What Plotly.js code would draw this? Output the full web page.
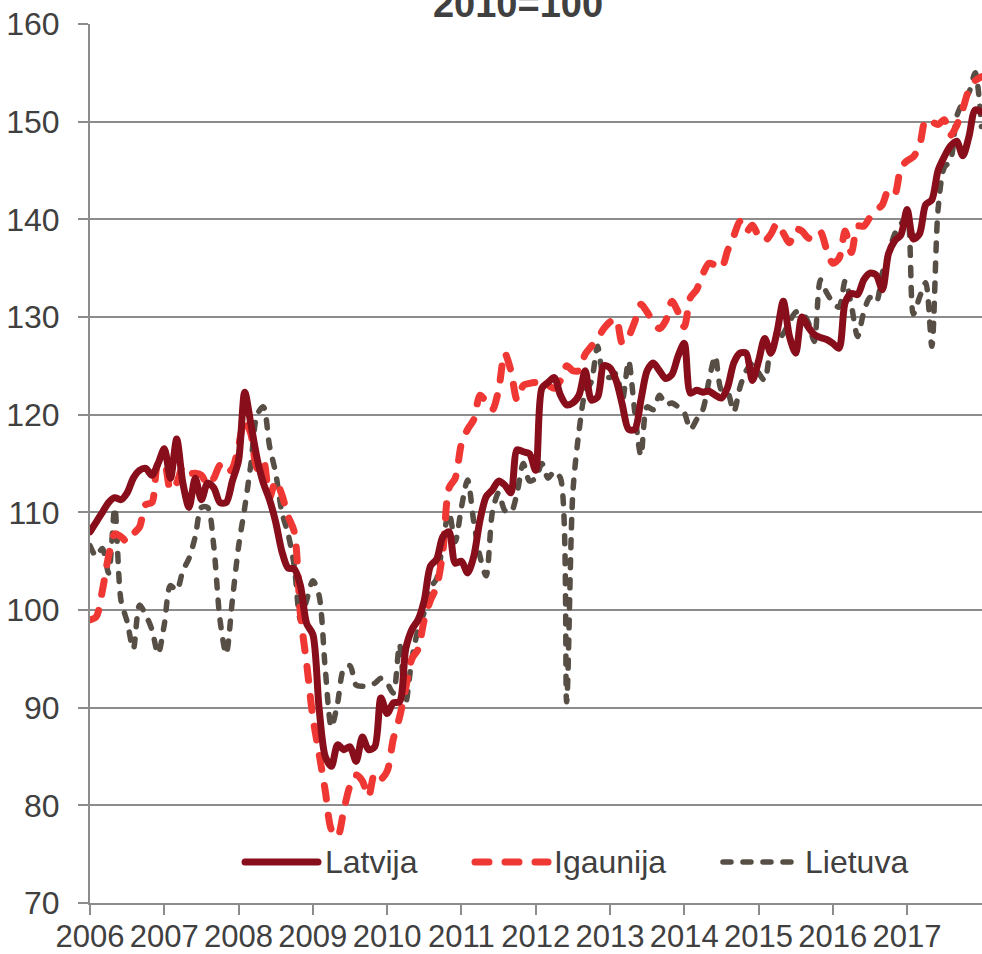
<!DOCTYPE html>
<html>
<head>
<meta charset="utf-8">
<script src="https://cdn.plot.ly/plotly-3.0.1.min.js"></script>
<style>
  html, body { margin: 0; padding: 0; background: #ffffff; }
  #chart { width: 982px; height: 954px; }
  .scatterlayer .js-line { stroke-linecap: round !important; stroke-linejoin: round !important; }
  .shapelayer path { stroke-linecap: round !important; }
</style>
</head>
<body>
<div id="chart"></div>
<script>
// Monthly index values, Jan 2006 ... Jan 2018 (2010=100)
const years = ['2006','2007','2008','2009','2010','2011','2012','2013','2014','2015','2016','2017'];
const seriesNames = ['Latvija', 'Igaunija', 'Lietuva'];

const latvija = [
  108, 109, 110, 111, 111.5, 111.3, 112, 113.5, 114.3, 114.5, 113.8, 115,
  116.5, 113.5, 117.5, 113, 110.5, 113.5, 111.3, 113, 112.5, 111, 111, 113.2,
  115.3, 122.3, 119, 115.5, 113, 111.3, 109, 106, 104.3, 104.2, 102.5, 98.6,
  97.5, 90, 85, 84, 86.2, 85.7, 86, 84.5, 87, 85.7, 86, 91,
  89.4, 90.5, 90.6, 96, 98, 99, 101, 104.5, 105.2, 107.5, 108, 104.8,
  105, 103.8, 105.5, 109.2, 111.6, 112.3, 113.2, 112.8, 112, 116.4, 116.2, 116,
  114.3, 122.7, 123.3, 123.8, 122, 121, 121.2, 122, 124.5, 121.5, 121.8, 125,
  124.8, 123.5, 121, 118.5, 118.5, 121.5, 124.5, 125.3, 124.5, 123.7, 124.1, 126,
  127.3, 122.2, 122.5, 122.3, 122.4, 122, 121.7, 122.8, 125.3, 126.3, 126.3, 123.5,
  125.5, 127.8, 126.3, 128.5, 131.6, 128, 126.3, 130, 129, 128.2, 127.9, 127.7,
  127.3, 126.8, 131.5, 132.4, 132.3, 133.8, 134.5, 134.3, 132.8, 136.5, 137.8, 138.4,
  141, 138, 138.5, 141.5, 142, 145, 146.4, 147.5, 148, 146.5, 148.5, 151.2,
  151
];

const igaunija = [
  99, 99.3, 102, 105.5, 107.8, 107.5, 107, 107.8, 108.5, 110.8, 111, 115,
  115, 112.3, 113, 114.7, 114, 114, 113.8, 112.8, 113.5, 114.8, 114, 114.5,
  116.8, 119.5, 118, 114.5, 115.3, 111.5, 113.2, 111.8, 109.6, 108, 99.5, 94.5,
  89, 85.3, 81.5, 77.5, 76.8, 79.5, 82, 83.1, 82.5, 80.9, 83.3, 82.7,
  83.5, 86.8, 89, 92, 95, 96, 99, 101, 102.4, 106, 112.5, 113.5,
  117, 118.5, 119.5, 122, 121.3, 120.5, 122.5, 126.3, 124.5, 121.5, 123, 123.2,
  123.3, 123.2, 123, 122.7, 123.5, 125, 124.5, 124.5, 126.2, 127, 127.8, 128.8,
  129.5, 129.8, 127.3, 128, 129.5, 131.3, 130.5, 129.5, 128.8, 129.6, 131.6, 130.5,
  129, 132, 132.8, 134.4, 135.5, 135.3, 135, 136.8, 138.3, 139.8, 138.7, 139.4,
  138.3, 137.8, 138.5, 139.6, 138.6, 137.6, 139, 138.8, 138.1, 138, 138.7, 136.9,
  135.5, 136, 138.8, 136.6, 139.3, 139.3, 140.2, 140.9, 141.5, 143, 142.6, 145.3,
  146, 146.4, 147.5, 150.2, 150, 149.7, 150.2, 148.6, 149.6, 151.3, 153.3, 154.2,
  154.6
];

const lietuva = [
  106.6, 105.5, 106.3, 103.8, 110.5, 101, 98.8, 96, 100.5, 99.5, 98, 95.5,
  98.5, 102.5, 102, 104, 105.3, 107.5, 110.5, 110.5, 106.5, 99, 95.5, 101,
  106.5, 110.5, 115, 120, 120.8, 116.8, 114, 110, 107.8, 104.5, 99, 101,
  103, 101.5, 94, 88, 90.5, 94, 94.3, 92.3, 92.2, 92.2, 92.5, 93,
  92.5, 91.5, 96.5, 90.5, 95, 98, 99.8, 102.3, 103.2, 107, 110, 107,
  110.5, 113.3, 109, 105.5, 103.5, 110, 112, 110.2, 110, 112, 115, 113.2,
  113.5, 115, 113.5, 114.2, 113.5, 90.6, 112, 118.3, 122.3, 123.4, 127, 124,
  123.8, 124.2, 121.5, 125.5, 120.3, 115.8, 120.8, 120.5, 122, 121, 121.2, 120.8,
  120.2, 118.5, 119.5, 120.5, 123.5, 126, 122.5, 122.3, 120.3, 122.8, 124.5, 125.2,
  124.3, 123.5, 126.8, 127.5, 128.3, 129.5, 130.5, 130.5, 129.5, 127.5, 133.8, 132.5,
  131.5, 131, 133.7, 131.2, 128, 130.5, 132, 131.5, 134.5, 136.5, 138.5, 139.5,
  140.3, 130.3, 132, 133.5, 127, 141, 145.3, 146, 150.5, 152, 153, 155,
  149.5
];

const colors = ['#870E1A', '#EF3833', '#574F45'];
const widths = [7, 7, 5.5];
const dashes = ['solid', '14px,16px', '8px,12px'];
const dataSets = [latvija, igaunija, lietuva];

const traces = dataSets.map((vals, k) => ({
  type: 'scatter',
  mode: 'lines',
  name: seriesNames[k],
  x: vals.map((_, i) => i),
  y: vals,
  line: { color: colors[k], width: widths[k], dash: dashes[k], shape: 'spline', smoothing: 0.8 },
  hoverinfo: 'skip',
  showlegend: false
}));
// draw order: Lietuva at the bottom, Latvija on top
const ordered = [traces[2], traces[1], traces[0]];

const fontFam = 'Liberation Sans, Arial, sans-serif';
const textColor = '#404040';
const gridColor = '#8C8C8C';

// custom legend (paper coordinates)
const legX = [[0.1738, 0.2556], [0.4316, 0.5135], [0.7096, 0.7915]];
const legTextX = [0.2612, 0.5180, 0.7993];
const legY = 0.0466;
const shapes = legX.map((p, k) => ({
  type: 'line', xref: 'paper', yref: 'paper',
  x0: p[0], x1: p[1], y0: legY, y1: legY,
  line: { color: colors[k], width: widths[k], dash: dashes[k] }
}));
const annotations = seriesNames.map((n, k) => ({
  text: n, xref: 'paper', yref: 'paper', x: legTextX[k], y: legY,
  xanchor: 'left', yanchor: 'middle', showarrow: false,
  font: { family: fontFam, size: 32, color: textColor }
}));

const layout = {
  width: 982, height: 954,
  margin: { l: 90, r: 0, t: 24, b: 51 },
  paper_bgcolor: '#ffffff', plot_bgcolor: '#ffffff',
  title: {
    text: '<b>2010=100</b>',
    font: { family: fontFam, size: 38, color: textColor },
    x: 0.5275, xref: 'container', xanchor: 'center',
    y: 0.9962, yref: 'container', yanchor: 'middle'
  },
  xaxis: {
    range: [0, 144.1],
    tickmode: 'array',
    tickvals: years.map((_, i) => i * 12),
    ticktext: years,
    ticks: 'outside', ticklen: 10, tickwidth: 2, tickcolor: gridColor,
    showgrid: false, zeroline: false,
    showline: true, linecolor: gridColor, linewidth: 2,
    tickfont: { family: fontFam, size: 31, color: textColor },
    ticklabelstandoff: -5,
    fixedrange: true
  },
  yaxis: {
    range: [70, 160],
    tickmode: 'linear', tick0: 70, dtick: 10,
    ticks: 'outside', ticklen: 10, tickwidth: 2, tickcolor: gridColor,
    showgrid: true, gridcolor: gridColor, gridwidth: 2,
    zeroline: false,
    showline: true, linecolor: gridColor, linewidth: 2,
    tickfont: { family: fontFam, size: 32, color: textColor },
    ticklabelstandoff: 12,
    fixedrange: true
  },
  shapes: shapes,
  annotations: annotations
};

Plotly.newPlot('chart', ordered, layout, { displayModeBar: false, staticPlot: true });
</script>
</body>
</html>
